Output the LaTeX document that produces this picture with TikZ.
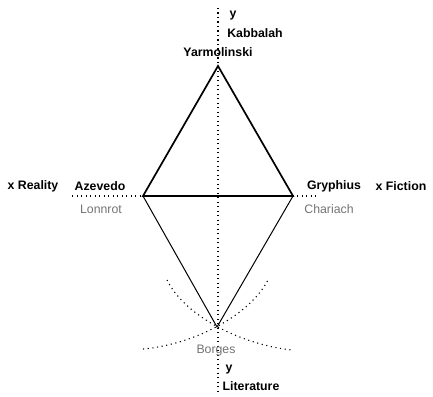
\documentclass[tikz,border=0pt]{standalone}
\usepackage{fontspec}
\setmainfont{Liberation Sans}
\begin{document}
\begin{tikzpicture}[x=1pt,y=-1pt,
  lbl/.style={font=\bfseries\fontsize{12.3}{14}\selectfont, inner sep=0pt},
  glbl/.style={font=\fontsize{12.3}{14}\selectfont, text=black!55, inner sep=0pt},
  axis/.style={line width=1.3pt, dash pattern=on 1.3pt off 3.2pt},
  curve/.style={line width=1.1pt, dash pattern=on 1.1pt off 3.6pt},
  thick side/.style={line width=1.7pt},
  thin side/.style={line width=1pt}]
\useasboundingbox (0,0) rectangle (433,396);
% points
\coordinate (top) at (218,66);
\coordinate (L) at (143,196);
\coordinate (R) at (293,196);
\coordinate (B) at (217,327);
\coordinate (vt) at (218,8);
\coordinate (vb) at (218,394);
\coordinate (hl) at (72,196);
\coordinate (hr) at (316,196);
% axes
\draw[axis] (vt) -- (vb);
\draw[axis] (hl) -- (hr);
% curves
\draw[curve] (143,349) .. controls (190,345) and (248,318) .. (268,280);
\draw[curve] (167,280) .. controls (186,318) and (244,345) .. (292,350);
% triangle
\draw[thick side] (L) -- (top) -- (R) -- cycle;
\draw[thin side] (L) -- (B) -- (R);
% labels
\node[lbl] (ylab) at (233,16) {y};
\node[lbl] (kab) at (255,33) {Kabbalah};
\node[lbl] (yar) at (218,52) {Yarmolinski};
\node[lbl] (xr) at (33,186) {x Reality};
\node[lbl] (aze) at (100,186) {Azevedo};
\node[glbl] (lon) at (101,209) {Lonnrot};
\node[lbl] (gry) at (334,186) {Gryphius};
\node[glbl] (cha) at (329,209) {Chariach};
\node[lbl] (xf) at (401,186) {x Fiction};
\node[glbl] (bor) at (216,351) {Borges};
\node[lbl] (ylab2) at (229,370) {y};
\node[lbl] (lit) at (251,386) {Literature};
\end{tikzpicture}
\end{document}
